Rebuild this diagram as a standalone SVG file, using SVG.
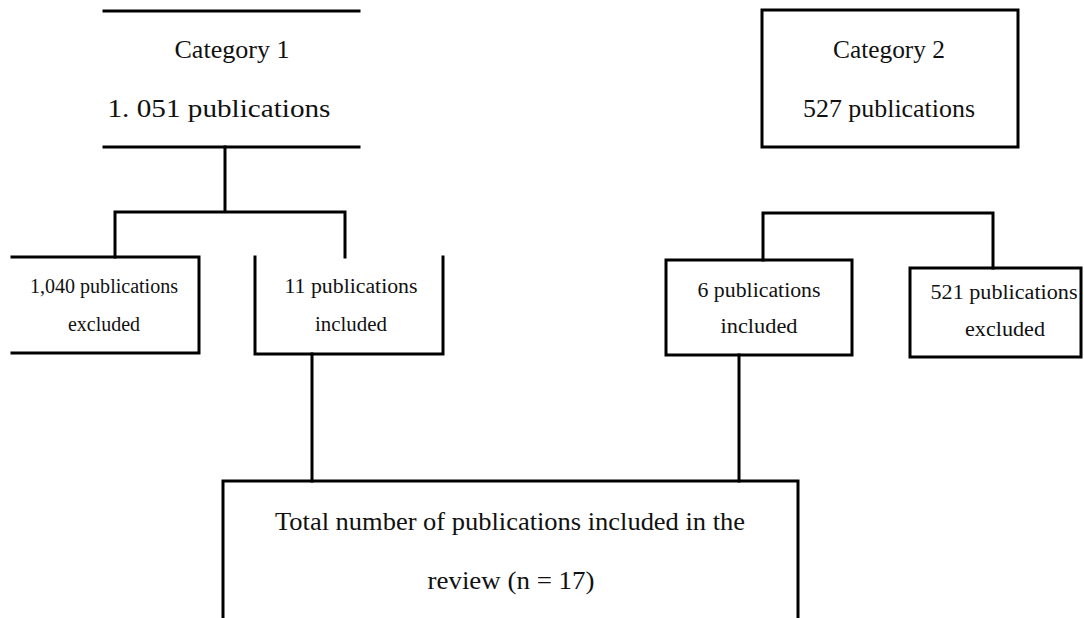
<svg xmlns="http://www.w3.org/2000/svg" width="1084" height="618" viewBox="0 0 1084 618">
<style>
.ln{stroke:#000;stroke-width:3;fill:none;stroke-linecap:square}
text{font-family:"Liberation Serif","Times New Roman",serif;fill:#111;text-anchor:middle}
.big{font-size:25px}
.sm{font-size:20px}
</style>
<rect width="1084" height="618" fill="#fff"/>
<g id="connectors">
<path class="ln" d="M225 147V212M115 212H345M115 212V257M345 212V257"/>
<path class="ln" d="M763 213H993M763 213V260M993 213V268"/>
<path class="ln" d="M312 354V481M739 355V481"/>
</g>
<g id="cat1">
<path class="ln" d="M104 11H359M104 147H359"/>
<text class="big" x="232" y="58" textLength="115" lengthAdjust="spacingAndGlyphs">Category 1</text>
<text class="big" x="219" y="117" textLength="223" lengthAdjust="spacingAndGlyphs">1. 051 publications</text>
</g>
<g id="cat2">
<rect class="ln" x="762" y="10" width="256" height="137"/>
<text class="big" x="889" y="58" textLength="112" lengthAdjust="spacingAndGlyphs">Category 2</text>
<text class="big" x="889" y="117" textLength="172" lengthAdjust="spacingAndGlyphs">527 publications</text>
</g>
<g id="excl1">
<path class="ln" d="M12 257H199V353H12"/>
<text class="sm" x="104" y="293" textLength="148" lengthAdjust="spacingAndGlyphs">1,040 publications</text>
<text class="sm" x="104" y="331" textLength="72" lengthAdjust="spacingAndGlyphs">excluded</text>
</g>
<g id="incl1">
<path class="ln" d="M255 257V354H443V257"/>
<text class="sm" x="351" y="293" textLength="133" lengthAdjust="spacingAndGlyphs">11 publications</text>
<text class="sm" x="351" y="331" textLength="72" lengthAdjust="spacingAndGlyphs">included</text>
</g>
<g id="incl2">
<rect class="ln" x="666" y="260" width="186" height="95"/>
<text class="sm" x="759" y="297" textLength="123" lengthAdjust="spacingAndGlyphs">6 publications</text>
<text class="sm" x="759" y="333" textLength="77" lengthAdjust="spacingAndGlyphs">included</text>
</g>
<g id="excl2">
<rect class="ln" x="910" y="268" width="171" height="89"/>
<text class="sm" x="1004" y="299" textLength="147" lengthAdjust="spacingAndGlyphs">521 publications</text>
<text class="sm" x="1005" y="336" textLength="80" lengthAdjust="spacingAndGlyphs">excluded</text>
</g>
<g id="total">
<path class="ln" d="M223 618V481H798V618"/>
<text class="big" x="510" y="530" textLength="470" lengthAdjust="spacingAndGlyphs">Total number of publications included in the</text>
<text class="big" x="511" y="589" textLength="167" lengthAdjust="spacingAndGlyphs">review (n = 17)</text>
</g>
</svg>
